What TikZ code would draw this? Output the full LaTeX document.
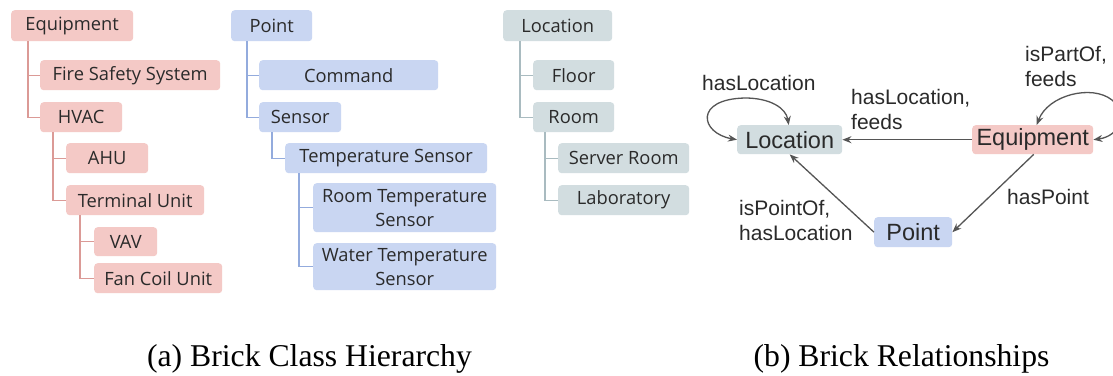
\documentclass[tikz,border=0pt]{standalone}
\usepackage{fontspec}
\setmainfont{Liberation Serif}
\newfontfamily\treefont{Open Sans}
\newfontfamily\graphfont{Liberation Sans}
\usetikzlibrary{arrows.meta}
\definecolor{txt}{HTML}{2A2A2A}
\definecolor{pinkfill}{HTML}{F4C9C6}
\definecolor{pinkline}{HTML}{DB9A96}
\definecolor{bluefill}{HTML}{C9D6F2}
\definecolor{blueline}{HTML}{93ABDD}
\definecolor{grayfill}{HTML}{D2DDE0}
\definecolor{grayline}{HTML}{A9BBC0}
\definecolor{arrowcol}{HTML}{555555}
\tikzset{
  treebox/.style={rounded corners=3.5pt, inner sep=0pt, anchor=north west,
    font=\treefont\fontsize{18.3}{24}\selectfont, text=txt, align=center},
  pinkbox/.style={treebox, fill=pinkfill},
  bluebox/.style={treebox, fill=bluefill},
  graybox/.style={treebox, fill=grayfill},
  pinkconn/.style={draw=pinkline, line width=1.4pt},
  blueconn/.style={draw=blueline, line width=1.4pt},
  grayconn/.style={draw=grayline, line width=1.4pt},
  gnode/.style={rounded corners=3.5pt, inner sep=0pt, anchor=north west,
    font=\graphfont\fontsize{23.5}{28}\selectfont, text=txt},
  rel/.style={draw=arrowcol, line width=1.3pt, -{Stealth[length=9pt,width=7pt]}},
  relboth/.style={draw=arrowcol, line width=1.3pt, {Stealth[length=9pt,width=7pt]}-{Stealth[length=9pt,width=7pt]}},
  lbl/.style={font=\graphfont\fontsize{21}{25}\selectfont, text=txt, inner sep=0pt, align=left, anchor=base west},
  caption/.style={font=\fontsize{31.7}{36}\selectfont, text=black, inner sep=0pt, anchor=base}
}
\begin{document}
\begin{tikzpicture}[x=1pt,y=-1pt]
\useasboundingbox (0,0) rectangle (1113,375);
\fill[white] (0,0) rectangle (1113,375);
% ---------- Equipment hierarchy ----------
\node[pinkbox, minimum width=122pt, minimum height=31pt] (eq) at (11,10) {Equipment};
\node[pinkbox, minimum width=180pt, minimum height=30pt] (fss) at (40,60) {Fire Safety System};
\node[pinkbox, minimum width=82pt, minimum height=30pt] (hvac) at (40,102) {HVAC};
\node[pinkbox, minimum width=82pt, minimum height=30pt] (ahu) at (66,143) {AHU};
\node[pinkbox, minimum width=138pt, minimum height=30pt] (tu) at (66,185) {Terminal Unit};
\node[pinkbox, minimum width=63pt, minimum height=29pt] (vav) at (94,227) {VAV};
\node[pinkbox, minimum width=128pt, minimum height=30pt] (fcu) at (94,263) {Fan Coil Unit};
\draw[pinkconn] ([xshift=17pt]eq.south west) |- (hvac.west);
\draw[pinkconn] ([xshift=17pt]eq.south west) |- (fss.west);
\draw[pinkconn] ([xshift=13pt]hvac.south west) |- (tu.west);
\draw[pinkconn] ([xshift=13pt]hvac.south west) |- (ahu.west);
\draw[pinkconn] ([xshift=14pt]tu.south west) |- (fcu.west);
\draw[pinkconn] ([xshift=14pt]tu.south west) |- (vav.west);
% ---------- Point hierarchy ----------
\node[bluebox, minimum width=81pt, minimum height=31pt] (pt) at (231,10) {Point};
\node[bluebox, minimum width=179pt, minimum height=30pt] (cmd) at (259,60) {Command};
\node[bluebox, minimum width=82pt, minimum height=30pt] (sen) at (259,102) {Sensor};
\node[bluebox, minimum width=202pt, minimum height=30pt] (ts) at (285,143) {Temperature Sensor};
\node[bluebox, minimum width=183pt, minimum height=49pt] (rts) at (313,183) {Room Temperature\\Sensor};
\node[bluebox, minimum width=183pt, minimum height=47pt] (wts) at (313,243) {Water Temperature\\Sensor};
\draw[blueconn] ([xshift=16pt]pt.south west) |- (sen.west);
\draw[blueconn] ([xshift=16pt]pt.south west) |- (cmd.west);
\draw[blueconn] ([xshift=13pt]sen.south west) |- (ts.west);
\draw[blueconn] ([xshift=14pt]ts.south west) |- (wts.west);
\draw[blueconn] ([xshift=14pt]ts.south west) |- (rts.west);
% ---------- Location hierarchy ----------
\node[graybox, minimum width=109pt, minimum height=31pt] (loc) at (503,10) {Location};
\node[graybox, minimum width=81pt, minimum height=30pt] (flr) at (533,60) {Floor};
\node[graybox, minimum width=81pt, minimum height=30pt] (room) at (533,102) {Room};
\node[graybox, minimum width=131pt, minimum height=30pt] (srv) at (558,143) {Server Room};
\node[graybox, minimum width=131pt, minimum height=30pt] (lab) at (558,185) {Laboratory};
\draw[grayconn] ([xshift=17pt]loc.south west) |- (room.west);
\draw[grayconn] ([xshift=17pt]loc.south west) |- (flr.west);
\draw[grayconn] ([xshift=12pt]room.south west) |- (lab.west);
\draw[grayconn] ([xshift=12pt]room.south west) |- (srv.west);
% ---------- Relationships ----------
\node[gnode, fill=grayfill, minimum width=105pt, minimum height=29pt] (L) at (737,125) {Location};
\node[gnode, fill=pinkfill, minimum width=121pt, minimum height=29pt] (E) at (972,125) {Equipment};
\node[gnode, fill=bluefill, minimum width=78pt, minimum height=30pt] (P) at (874,217) {Point};
\draw[rel] (E.west) -- (L.east);
\draw[rel] ([xshift=1pt]E.south) -- (P.east);
\draw[rel] (P.west) -- (L.south);
\draw[relboth] (L.west) .. controls (700,133) and (694,99) .. (745,98)
  .. controls (770,98) and (786,108) .. ([xshift=-1pt]L.north);
\draw[relboth] ([xshift=4pt]E.north) .. controls (1048,95) and (1092,84) .. (1112,100)
  .. controls (1128,114) and (1120,136) .. (E.east);
\node[lbl] (l1) at (702,90) {hasLocation};
\node[lbl] (l2) at (851,129) {hasLocation,\\feeds};
\node[lbl] (l3) at (1025,86) {isPartOf,\\feeds};
\node[lbl] (l4) at (1007,204) {hasPoint};
\node[lbl] (l5) at (739,240) {isPointOf,\\hasLocation};
% ---------- Captions ----------
\node[caption] (ca) at (309.5,366) {(a) Brick Class Hierarchy};
\node[caption] (cb) at (901.5,366) {(b) Brick Relationships};
\end{tikzpicture}
\end{document}
